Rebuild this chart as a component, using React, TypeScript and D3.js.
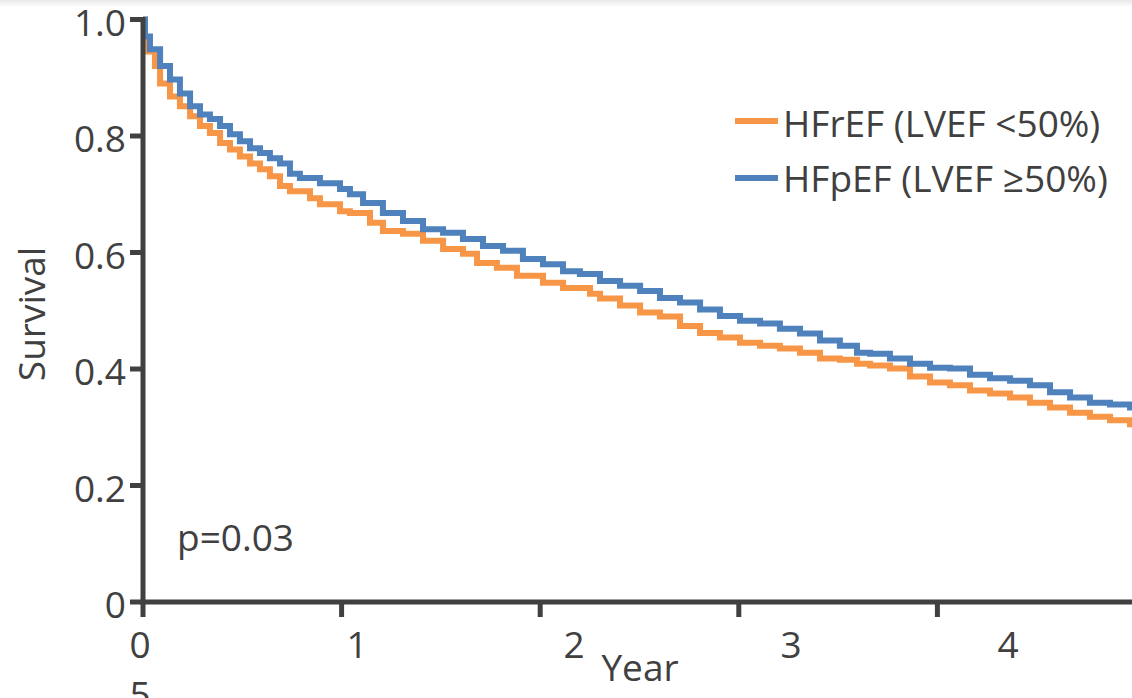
import React from "react";
import * as d3 from "d3";

const yearTicks = [0, 1, 2, 3, 4];
const yearTickLabels = ["0", "1", "2", "3", "4", "5"];
const survivalTicks = [0, 0.2, 0.4, 0.6, 0.8, 1.0];
const survivalTickLabels = ["0", "0.2", "0.4", "0.6", "0.8", "1.0"];

const seriesNames = ["HFrEF (LVEF <50%)", "HFpEF (LVEF \u226550%)"];

const hfrefTime = [0, 0.01, 0.06, 0.086, 0.136, 0.186, 0.237, 0.287, 0.337, 0.388, 0.438, 0.488, 0.539, 0.589, 0.639, 0.69, 0.74, 0.841, 0.891, 0.992, 1.042, 1.143, 1.208, 1.309, 1.41, 1.511, 1.611, 1.682, 1.782, 1.883, 2.014, 2.115, 2.251, 2.301, 2.402, 2.503, 2.603, 2.704, 2.805, 2.905, 3.006, 3.107, 3.207, 3.308, 3.409, 3.509, 3.595, 3.661, 3.761, 3.862, 3.963, 4.063, 4.164, 4.265, 4.366, 4.466, 4.567, 4.668, 4.768, 4.869, 4.97];
const hfrefSurvival = [1.0, 0.945, 0.92, 0.89, 0.868, 0.851, 0.834, 0.817, 0.805, 0.788, 0.777, 0.765, 0.753, 0.743, 0.731, 0.714, 0.705, 0.693, 0.683, 0.671, 0.668, 0.651, 0.637, 0.632, 0.62, 0.606, 0.598, 0.582, 0.574, 0.56, 0.548, 0.539, 0.529, 0.521, 0.509, 0.497, 0.49, 0.474, 0.462, 0.454, 0.445, 0.44, 0.435, 0.428, 0.418, 0.416, 0.409, 0.406, 0.401, 0.387, 0.377, 0.372, 0.363, 0.358, 0.351, 0.342, 0.334, 0.325, 0.318, 0.312, 0.305];

const hfpefTime = [0, 0.01, 0.035, 0.086, 0.136, 0.186, 0.237, 0.287, 0.337, 0.388, 0.438, 0.488, 0.539, 0.589, 0.639, 0.69, 0.74, 0.79, 0.891, 0.992, 1.042, 1.108, 1.208, 1.309, 1.41, 1.511, 1.611, 1.712, 1.813, 1.913, 2.014, 2.115, 2.2, 2.301, 2.402, 2.503, 2.603, 2.704, 2.805, 2.905, 3.006, 3.107, 3.207, 3.308, 3.409, 3.509, 3.595, 3.661, 3.761, 3.862, 3.963, 4.063, 4.164, 4.265, 4.366, 4.466, 4.567, 4.668, 4.768, 4.869, 4.97];
const hfpefSurvival = [1.0, 0.971, 0.949, 0.92, 0.897, 0.873, 0.851, 0.837, 0.829, 0.817, 0.803, 0.791, 0.779, 0.771, 0.762, 0.753, 0.735, 0.728, 0.719, 0.709, 0.7, 0.685, 0.668, 0.654, 0.64, 0.634, 0.623, 0.611, 0.603, 0.589, 0.58, 0.568, 0.563, 0.551, 0.543, 0.534, 0.522, 0.514, 0.502, 0.491, 0.483, 0.478, 0.469, 0.461, 0.449, 0.44, 0.428, 0.426, 0.418, 0.409, 0.402, 0.401, 0.39, 0.384, 0.38, 0.372, 0.36, 0.351, 0.342, 0.339, 0.334];

const W = 1132;
const H = 698;
const FONT = "'Open Sans', 'Noto Sans', sans-serif";
const TEXT = "#404040";
const AXIS = "#404040";
const ORANGE = "#F79646";
const BLUE = "#4F81BD";
const FS = 37;

export default function App() {
  const x = d3.scaleLinear().domain([0, 5]).range([143, 1136]);
  const y = d3.scaleLinear().domain([0, 1]).range([602, 19.5]);
  const labelX = d3.scaleLinear().domain([0, 4]).range([140, 1008]);

  const line = d3
    .line<[number, number]>()
    .x((d) => x(d[0]))
    .y((d) => y(d[1]))
    .curve(d3.curveStepAfter);

  const orangeData: [number, number][] = hfrefTime.map((t, i) => [t, hfrefSurvival[i]]);
  orangeData.push([5, hfrefSurvival[hfrefSurvival.length - 1]]);
  const blueData: [number, number][] = hfpefTime.map((t, i) => [t, hfpefSurvival[i]]);
  blueData.push([5, hfpefSurvival[hfpefSurvival.length - 1]]);

  const series = [
    { name: seriesNames[0], data: orangeData, color: ORANGE, lineY: 121, textY: 137 },
    { name: seriesNames[1], data: blueData, color: BLUE, lineY: 178, textY: 192 },
  ];

  return (
    <svg
      width={W}
      height={H}
      style={{ position: "absolute", left: 0, top: 0, background: "#fff" }}
      fontFamily={FONT}
    >
      <defs>
        <linearGradient id="topShade" x1="0" y1="0" x2="0" y2="1">
          <stop offset="0" stopColor="#e8e8e8" />
          <stop offset="1" stopColor="#ffffff" />
        </linearGradient>
      </defs>
      <rect x={0} y={0} width={W} height={H} fill="#fff" />
      <rect x={0} y={0} width={W} height={7} fill="url(#topShade)" />

      {/* series */}
      {series.map((s) => (
        <path
          key={s.name}
          d={line(s.data) || ""}
          fill="none"
          stroke={s.color}
          strokeWidth={6}
          strokeLinejoin="miter"
        />
      ))}

      {/* axes */}
      <line x1={x(0)} x2={x(0)} y1={y(1) - 2.5} y2={y(0) + 2.5} stroke={AXIS} strokeWidth={5} />
      <line x1={x(0) - 2.5} x2={W} y1={y(0)} y2={y(0)} stroke={AXIS} strokeWidth={5} />
      {survivalTicks.map((v) => (
        <line key={"yt" + v} x1={x(0) - 13} x2={x(0)} y1={y(v)} y2={y(v)} stroke={AXIS} strokeWidth={5} />
      ))}
      {yearTicks.map((t) => (
        <line key={"xt" + t} x1={x(t)} x2={x(t)} y1={y(0)} y2={y(0) + 15} stroke={AXIS} strokeWidth={5} />
      ))}

      {/* y tick labels */}
      {survivalTicks.map((v, i) => (
        <text
          key={"yl" + v}
          x={126}
          y={y(v) + 16}
          textAnchor="end"
          fontSize={FS}
          fill={TEXT}
        >
          {survivalTickLabels[i]}
        </text>
      ))}

      {/* x tick labels (wrapped layout as in original) */}
      {yearTickLabels.map((lab, i) => {
        const row = i < 5 ? 0 : 1;
        const col = i < 5 ? i : 0;
        return (
          <text
            key={"xl" + lab}
            x={labelX(col)}
            y={658 + row * 50}
            textAnchor="middle"
            fontSize={FS}
            fill={TEXT}
          >
            {lab}
          </text>
        );
      })}

      {/* axis titles */}
      <text x={640} y={681} textAnchor="middle" fontSize={FS} fill={TEXT}>
        Year
      </text>
      <text
        transform={`translate(45, ${314}) rotate(-90)`}
        textAnchor="middle"
        fontSize={FS}
        fill={TEXT}
      >
        Survival
      </text>

      {/* p value */}
      <text x={177} y={551} fontSize={FS} fill={TEXT}>
        p=0.03
      </text>

      {/* legend */}
      {series.map((s) => (
        <g key={"lg" + s.name}>
          <line x1={735} x2={778} y1={s.lineY} y2={s.lineY} stroke={s.color} strokeWidth={6} />
          <text x={783} y={s.textY} fontSize={FS} fill={TEXT}>
            {s.name}
          </text>
        </g>
      ))}
    </svg>
  );
}
